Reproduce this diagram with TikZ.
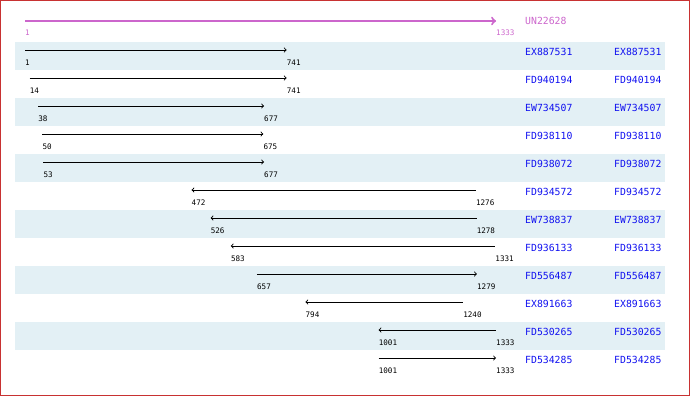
\documentclass[tikz,border=0pt]{standalone}
\usepackage{fontspec}
\setmainfont{DejaVu Sans}
\newfontfamily\monofont{DejaVu Sans Mono}
\usetikzlibrary{arrows}

\definecolor{bandblue}{HTML}{E3F0F5}
\definecolor{querypink}{HTML}{CC66CC}
\definecolor{accblue}{HTML}{1010F0}
\definecolor{frame}{HTML}{C83232}

\begin{document}
\begin{tikzpicture}[x=1pt,y=-1pt]
      \tikzset { band/.style = { fill=bandblue,draw=none } }
      \tikzset { hit/.style = { line width=0.9pt,> = to } }
      \tikzset { fwd/.style = { -> }, rev/.style = { <- } }
      \tikzset { seqnum/.style = { anchor=west,inner sep=0pt,font=\monofont\fontsize{7.6}{8}\selectfont } }
      \tikzset { acc/.style = { anchor=west,inner sep=0pt,text=accblue,font=\monofont\fontsize{9.8}{11}\selectfont } }

      \useasboundingbox (0,0) rectangle (690,396);
      \draw[frame,line width=1pt] (0.5,0.5) rectangle (689.5,395.5);

      % query
      \coordinate (qs) at (25,21);
      \coordinate (qe) at (496,21);
      \draw[querypink,line width=2pt,->,> = to] (qs) -- (qe);
      \node[seqnum,text=querypink] (qlo) at (25,33) {1};
      \node[seqnum,text=querypink] (qhi) at (496,33) {1333};
      \node[acc,text=querypink] (qname) at (525,21) {UN22628};

      % hits
      \foreach \i/\lo/\hi/\name/\dir in {1/1/741/EX887531/fwd, 2/14/741/FD940194/fwd,
          3/38/677/EW734507/fwd, 4/50/675/FD938110/fwd, 5/53/677/FD938072/fwd,
          6/472/1276/FD934572/rev, 7/526/1278/EW738837/rev, 8/583/1331/FD936133/rev,
          9/657/1279/FD556487/fwd, 10/794/1240/EX891663/rev, 11/1001/1333/FD530265/rev,
          12/1001/1333/FD534285/fwd} {
        \pgfmathsetmacro{\rowtop}{42+(\i-1)*28}
        \pgfmathsetmacro{\xlo}{25+(\lo-1)/1332*471}
        \pgfmathsetmacro{\xhi}{25+(\hi-1)/1332*471}
        \ifodd\i \fill[band] (15,\rowtop) rectangle (665,\rowtop+28); \fi
        \coordinate (s\i) at (\xlo,\rowtop+8);
        \coordinate (e\i) at (\xhi,\rowtop+8);
        \draw[hit,\dir] (s\i) -- (e\i);
        \node[seqnum] (lo\i) at (\xlo,\rowtop+21) {\lo};
        \node[seqnum] (hi\i) at (\xhi,\rowtop+21) {\hi};
        \node[acc] (name\i) at (525,\rowtop+10) {\name};
        \node[acc] (dup\i) at (614,\rowtop+10) {\name};
      }

    \end{tikzpicture}
\end{document}
